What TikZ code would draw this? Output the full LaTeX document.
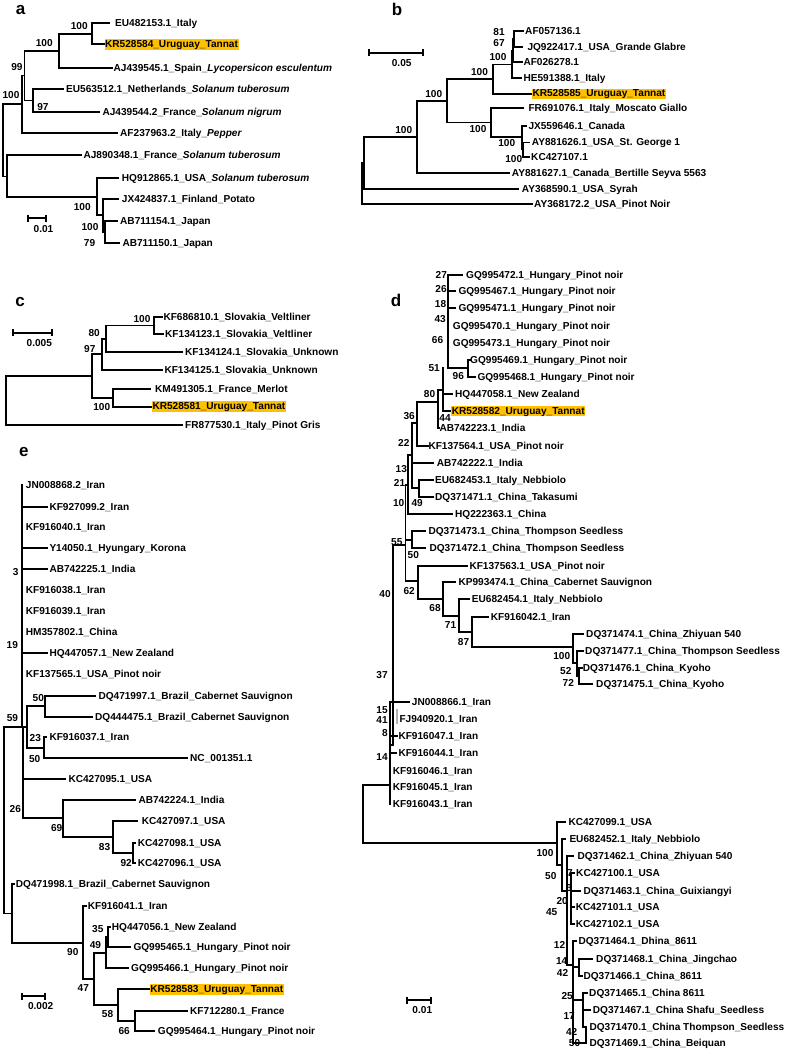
\documentclass[tikz,border=0pt]{standalone}
\usepackage{fontspec}
\setmainfont{Liberation Sans}
\definecolor{hl}{RGB}{255,192,0}
\newcommand\tf{\fontsize{10.1}{11}\selectfont\bfseries}
\tikzset{
  br/.style={line width=1.8pt, line cap=rect, line join=miter},
  lab/.style={anchor=west, inner sep=0pt, text height=7pt, text depth=0pt, font=\tf},
  hlab/.style={anchor=west, inner xsep=0.6pt, inner ysep=1.3pt, text height=7pt, text depth=1pt, fill=hl, font=\tf},
  bs/.style={anchor=center, inner sep=0pt, text height=7pt, text depth=0pt, font=\tf},
  pl/.style={anchor=center, inner sep=0pt, font=\fontsize{17}{17}\selectfont\bfseries},
  sc/.style={line width=1.8pt}
}
\begin{document}
\begin{tikzpicture}[x=1pt,y=-1pt]
\useasboundingbox (0,0) rectangle (787,1051);
% ================= panel a
\node[pl] (La) at (20.5,10) {a};
\draw[br] (109,23.3) -| (92.3,44.3) -- (104,44.3);
\draw[br] (92.3,33.8) -| (58.7,67.7) -- (112,67.7);
\draw[br] (63,89.3) -| (33.3,111.7) -- (99,111.7);
\draw[br] (58.7,50.7) -| (24.5,100.5) -- (33.3,100.5);
\draw[br] (24.5,75.6) -| (22.3,133) -- (117.3,133);
\draw[br] (22.3,104.3) -| (3.3,176.5) -- (7,176.5);
\draw[br] (81,154.7) -| (7,197) -- (96.7,197);
\draw[br] (118.3,177.7) -| (96.7,215.3) -- (103.3,215.3);
\draw[br] (118.3,199) -| (103.3,231.7) -- (105,231.7);
\draw[br] (117.3,220.7) -| (105,242.7) -- (119.3,242.7);
\node[lab] (a1) at (115,23.3) {EU482153.1\_Italy};
\node[hlab] (a2) at (104.3,44.3) {KR528584\_Uruguay\_Tannat};
\node[lab] (a3) at (113.5,67.7) {AJ439545.1\_Spain\_\textit{Lycopersicon esculentum}};
\node[lab] (a4) at (66,89.3) {EU563512.1\_Netherlands\_\textit{Solanum tuberosum}};
\node[lab] (a5) at (102.3,111.7) {AJ439544.2\_France\_\textit{Solanum nigrum}};
\node[lab] (a6) at (120,133) {AF237963.2\_Italy\_\textit{Pepper}};
\node[lab] (a7) at (83.3,154.7) {AJ890348.1\_France\_\textit{Solanum tuberosum}};
\node[lab] (a8) at (121.7,177.7) {HQ912865.1\_USA\_\textit{Solanum tuberosum}};
\node[lab] (a9) at (121.7,199) {JX424837.1\_Finland\_Potato};
\node[lab] (a10) at (120,220.7) {AB711154.1\_Japan};
\node[lab] (a11) at (122.3,242.7) {AB711150.1\_Japan};
\node[bs] (ba1) at (79.2,26) {100};
\node[bs] (ba2) at (44.3,42.7) {100};
\node[bs] (ba3) at (17,66.7) {99};
\node[bs] (ba4) at (11,95) {100};
\node[bs] (ba5) at (43,106.7) {97};
\node[bs] (ba6) at (82.3,206.7) {100};
\node[bs] (ba7) at (90,226.7) {100};
\node[bs] (ba8) at (89.5,242.7) {79};
\draw[sc] (28,214.5) -- (28,221.5) (28,218) -- (46,218) (46,214.5) -- (46,221.5);
\node[bs] (sa) at (43.5,228.5) {0.01};
% ================= panel b
\node[pl] (Lb) at (397,9.5) {b};
\draw[br] (522.7,31) -| (514,46.7) -- (521.7,46.7);
\draw[br] (514,38.8) -| (513,62.3) -- (521.7,62.3);
\draw[br] (513,50.6) -| (511.7,78.3) -- (520.7,78.3);
\draw[br] (511.7,64.5) -| (492.7,94) -- (531.7,94);
\draw[br] (492.7,79.2) -| (447.3,122.5) -- (491,122.5);
\draw[br] (522.7,108.3) -| (491,136.7) -- (521.7,136.7);
\draw[br] (526,125.7) -| (521.7,149.6) -- (523.3,149.6);
\draw[br] (529,142.5) -| (523.3,156.7) -- (529,156.7);
\draw[br] (447.3,100.9) -| (417.3,172.7) -- (509,172.7);
\draw[br] (417.3,136.8) -| (364,189.3) -- (518.3,189.3);
\draw[br] (364,163) -| (361.7,204) -- (531.7,204);
\node[lab] (b1) at (525,31) {AF057136.1};
\node[lab] (b2) at (527.3,46.7) {JQ922417.1\_USA\_Grande Glabre};
\node[lab] (b3) at (523.3,62.3) {AF026278.1};
\node[lab] (b4) at (523.3,78.3) {HE591388.1\_Italy};
\node[hlab] (b5) at (531.7,94) {KR528585\_Uruguay\_Tannat};
\node[lab] (b6) at (528.3,108.3) {FR691076.1\_Italy\_Moscato Giallo};
\node[lab] (b7) at (528.3,125.7) {JX559646.1\_Canada};
\node[lab] (b8) at (531.7,142.5) {AY881626.1\_USA\_St. George 1};
\node[lab] (b9) at (531,156.7) {KC427107.1};
\node[lab] (b10) at (511.7,172.7) {AY881627.1\_Canada\_Bertille Seyva 5563};
\node[lab] (b11) at (521.7,189.3) {AY368590.1\_USA\_Syrah};
\node[lab] (b12) at (534,204) {AY368172.2\_USA\_Pinot Noir};
\node[bs] (bb1) at (499,31.7) {81};
\node[bs] (bb2) at (499,43.3) {67};
\node[bs] (bb3) at (498,57) {100};
\node[bs] (bb4) at (479.5,71.7) {100};
\node[bs] (bb5) at (433.8,94) {100};
\node[bs] (bb6) at (478,129.3) {100};
\node[bs] (bb7) at (403.8,130) {100};
\node[bs] (bb8) at (506.7,142.7) {100};
\node[bs] (bb9) at (513.8,159) {100};
\draw[sc] (369.3,49.2) -- (369.3,56.2) (369.3,52.7) -- (423.3,52.7) (423.3,49.2) -- (423.3,56.2);
\node[bs] (sb) at (401.7,62.7) {0.05};
% ================= panel c
\node[pl] (Lc) at (20,302) {c};
\draw[br] (161.7,316.7) -| (154,334.3) -- (163,334.3);
\draw[br] (154,325.5) -| (106,351.7) -- (181.7,351.7);
\draw[br] (106,338.6) -| (101.7,370) -- (161.7,370);
\draw[br] (150,389) -| (113.3,406.7) -- (151.7,406.7);
\draw[br] (101.7,354.3) -| (91.7,397.9) -- (113.3,397.9);
\draw[br] (91.7,376.1) -| (6,425) -- (181.7,425);
\node[lab] (c1) at (163.3,316.7) {KF686810.1\_Slovakia\_Veltliner};
\node[lab] (c2) at (165,334.3) {KF134123.1\_Slovakia\_Veltliner};
\node[lab] (c3) at (185,352) {KF134124.1\_Slovakia\_Unknown};
\node[lab] (c4) at (164.3,370.3) {KF134125.1\_Slovakia\_Unknown};
\node[lab] (c5) at (155,389) {KM491305.1\_France\_Merlot};
\node[hlab] (c6) at (151.7,406.7) {KR528581\_Uruguay\_Tannat};
\node[lab] (c7) at (185,425) {FR877530.1\_Italy\_Pinot Gris};
\node[bs] (bc1) at (142,319.3) {100};
\node[bs] (bc2) at (94.2,332.7) {80};
\node[bs] (bc3) at (89.8,349.3) {97};
\node[bs] (bc4) at (101.7,406.7) {100};
\draw[sc] (13.3,329.2) -- (13.3,336.2) (13.3,332.7) -- (51.7,332.7) (51.7,329.2) -- (51.7,336.2);
\node[bs] (scc) at (39.3,343.3) {0.005};
% ================= panel e
\node[pl] (Le) at (23.8,452) {e};
\draw[br] (21.7,485) -- (21.7,727);
\draw[br] (21.7,506.7) -- (46.7,506.7);
\draw[br] (21.7,548.3) -- (46.7,548.3);
\draw[br] (21.7,569.3) -- (46.7,569.3);
\draw[br] (21.7,653.3) -- (46.7,653.3);
\draw[br] (95,695.7) -| (45,716.7) -- (91.7,716.7);
\draw[br] (46,737.3) -| (44.3,758.3) -- (186.7,758.3);
\draw[br] (45,706.2) -| (26.7,747.8) -- (44.3,747.8);
\draw[br] (4,727) -- (26.7,727);
\draw[br] (22.7,727) -- (22.7,779.3);
\draw[br] (65,779.3) -| (22.7,818.3) -- (63.3,818.3);
\draw[br] (135,800) -| (63.3,836.7) -- (112.7,836.7);
\draw[br] (136.7,820.7) -| (112.7,852.7) -- (133.3,852.7);
\draw[br] (135.3,842.7) -| (133.3,863.3) -- (135.3,863.3);
\draw[br] (4,727) |- (11.7,913.5);
\draw[br] (13.7,884.3) -| (11.7,942.7) -- (83.3,942.7);
\draw[br] (85.7,905.7) -| (83.3,979.3) -- (94.3,979.3);
\draw[br] (106,953) -| (94.3,1005) -- (118.3,1005);
\draw[br] (108,937) -| (106,968.3) -- (127.7,968.3);
\draw[br] (110,926.7) -| (108,947.3) -- (130,947.3);
\draw[br] (149.3,989.3) -| (118.3,1021) -- (135,1021);
\draw[br] (186.7,1010.7) -| (135,1031) -- (154,1031);
\node[lab] (e1) at (25.7,485) {JN008868.2\_Iran};
\node[lab] (e2) at (49.3,506.7) {KF927099.2\_Iran};
\node[lab] (e3) at (25.7,527.3) {KF916040.1\_Iran};
\node[lab] (e4) at (49.3,548.3) {Y14050.1\_Hyungary\_Korona};
\node[lab] (e5) at (49.3,569.3) {AB742225.1\_India};
\node[lab] (e6) at (25.7,590) {KF916038.1\_Iran};
\node[lab] (e7) at (25.7,611) {KF916039.1\_Iran};
\node[lab] (e8) at (25.7,632.3) {HM357802.1\_China};
\node[lab] (e9) at (49.3,653.3) {HQ447057.1\_New Zealand};
\node[lab] (e10) at (25.7,674) {KF137565.1\_USA\_Pinot noir};
\node[lab] (e11) at (98.3,695.7) {DQ471997.1\_Brazil\_Cabernet Sauvignon};
\node[lab] (e12) at (95,716.7) {DQ444475.1\_Brazil\_Cabernet Sauvignon};
\node[lab] (e13) at (49.3,737.3) {KF916037.1\_Iran};
\node[lab] (e14) at (190,758.3) {NC\_001351.1};
\node[lab] (e15) at (68.3,779.3) {KC427095.1\_USA};
\node[lab] (e16) at (138.3,800) {AB742224.1\_India};
\node[lab] (e17) at (141.7,820.7) {KC427097.1\_USA};
\node[lab] (e18) at (137.7,842.7) {KC427098.1\_USA};
\node[lab] (e19) at (137.7,863.3) {KC427096.1\_USA};
\node[lab] (e20) at (15.7,884.3) {DQ471998.1\_Brazil\_Cabernet Sauvignon};
\node[lab] (e21) at (87.7,905.7) {KF916041.1\_Iran};
\node[lab] (e22) at (111.7,926.7) {HQ447056.1\_New Zealand};
\node[lab] (e23) at (133.3,947.3) {GQ995465.1\_Hungary\_Pinot noir};
\node[lab] (e24) at (131,968.3) {GQ995466.1\_Hungary\_Pinot noir};
\node[hlab] (e25) at (149.5,989.3) {KR528583\_Uruguay\_Tannat};
\node[lab] (e26) at (190,1010.7) {KF712280.1\_France};
\node[lab] (e27) at (157.7,1031) {GQ995464.1\_Hungary\_Pinot noir};
\node[bs] (be1) at (15.7,571.7) {3};
\node[bs] (be2) at (12.3,645) {19};
\node[bs] (be3) at (38.3,698.3) {50};
\node[bs] (be4) at (12.5,718.3) {59};
\node[bs] (be5) at (35.3,738.3) {23};
\node[bs] (be6) at (34.7,759) {50};
\node[bs] (be7) at (15.3,809.3) {26};
\node[bs] (be8) at (56.7,828.3) {69};
\node[bs] (be9) at (104.5,847.3) {83};
\node[bs] (be10) at (126.2,862.7) {92};
\node[bs] (be11) at (97.8,929) {35};
\node[bs] (be12) at (95.5,945) {49};
\node[bs] (be13) at (72.8,951.7) {90};
\node[bs] (be14) at (83.3,988.3) {47};
\node[bs] (be15) at (107.5,1014) {58};
\node[bs] (be16) at (124.2,1030.7) {66};
\draw[sc] (21.7,992.5) -- (21.7,999.5) (21.7,996) -- (45,996) (45,992.5) -- (45,999.5);
\node[bs] (se) at (40.7,1006) {0.002};
% ================= panel d
\node[pl] (Ld) at (396,300) {d};
\draw[br] (448.3,275) -- (462,275);
\draw[br] (448.3,291) -- (455,291);
\draw[br] (448.3,308.3) -- (455,308.3);
\draw[br] (448.3,275) -- (448.3,368.3) -- (467.7,368.3);
\draw[br] (470,360) -| (467.7,377.3) -- (475,377.3);
\draw[br] (443.3,368.3) -- (443.3,411) -- (451,411);
\draw[br] (443.3,394) -- (451.7,394);
\draw[br] (443.3,390) -| (438.3,428.3) -- (439.3,428.3);
\draw[br] (438.3,401.7) -| (416.7,445.7) -- (428,445.7);
\draw[br] (416.7,423.3) -| (412.3,488.3) -- (419.3,488.3);
\draw[br] (412.3,462.7) -- (433.3,462.7);
\draw[br] (433,480) -| (419.3,496.7) -- (433,496.7);
\draw[br] (412.3,455) -| (408.3,514) -- (451.7,514);
\draw[br] (408.3,485) -| (405.5,580.7) -- (418.3,580.7);
\draw[br] (425,531) -| (412.3,548.3) -- (425,548.3);
\draw[br] (405.5,539.7) -- (412.3,539.7);
\draw[br] (466.7,565.7) -| (418.3,599) -- (443.3,599);
\draw[br] (455,582.3) -| (443.3,615.7) -- (459.3,615.7);
\draw[br] (469,599.3) -| (459.3,632) -- (471.7,632);
\draw[br] (487.7,616.7) -| (471.7,647.3) -- (572.7,647.3);
\draw[br] (582.7,634) -| (572.7,663.3) -- (576.7,663.3);
\draw[br] (583,650.7) -| (576.7,676) -- (579.3,676);
\draw[br] (581.7,667.7) -| (579.3,684.3) -- (591.7,684.3);
\draw[br] (405.5,545) -| (393.3,745) -- (390,745);
\draw[br] (390,702.3) -- (390,804.3);
\draw[br] (390,702.3) -- (409,702.3);
\draw[br, gray!60] (396.7,710) -- (396.7,723.3);
\draw[br] (390,736) -- (396.7,736);
\draw[br] (390,753.3) -- (396,753.3);
\draw[br] (390,785) -| (363.3,843.3) -- (556.7,843.3);
\draw[br] (565,821.7) -| (556.7,865) -- (561.7,865);
\draw[br] (565,839) -| (561.7,891) -- (566.7,891);
\draw[br] (572.7,855.7) -| (566.7,925) -- (566.7,925);
\draw[br] (574,873.3) -| (571,924.3) -- (574,924.3);
\draw[br] (571,890.7) -- (580,890.7);
\draw[br] (571,907.3) -- (574,907.3);
\draw[br] (566.7,910) -- (566.7,965) -- (573,965);
\draw[br] (576,941) -| (573,1043.3) -- (586,1043.3);
\draw[br] (591.7,959) -| (579.3,976) -- (581.7,976);
\draw[br] (573,967) -- (579.3,967);
\draw[br] (587,992.7) -| (583,1026.7) -- (586,1026.7);
\draw[br] (583,1010) -- (590,1010);
\draw[br] (573,1000) -- (583,1000);
\draw[br] (586,1026.7) -- (586,1043.3);
\node[lab] (d1) at (466,275) {GQ995472.1\_Hungary\_Pinot noir};
\node[lab] (d2) at (458.3,291) {GQ995467.1\_Hungary\_Pinot noir};
\node[lab] (d3) at (458.3,308.3) {GQ995471.1\_Hungary\_Pinot noir};
\node[lab] (d4) at (452.7,325.7) {GQ995470.1\_Hungary\_Pinot noir};
\node[lab] (d5) at (452.7,343.3) {GQ995473.1\_Hungary\_Pinot noir};
\node[lab] (d6) at (470,360) {GQ995469.1\_Hungary\_Pinot noir};
\node[lab] (d7) at (477.3,377.3) {GQ995468.1\_Hungary\_Pinot noir};
\node[lab] (d8) at (455,394) {HQ447058.1\_New Zealand};
\node[hlab] (d9) at (451,411) {KR528582\_Uruguay\_Tannat};
\node[lab] (d10) at (439.3,428.3) {AB742223.1\_India};
\node[lab] (d11) at (428.3,445.7) {KF137564.1\_USA\_Pinot noir};
\node[lab] (d12) at (436.7,462.7) {AB742222.1\_India};
\node[lab] (d13) at (435,480) {EU682453.1\_Italy\_Nebbiolo};
\node[lab] (d14) at (435,496.7) {DQ371471.1\_China\_Takasumi};
\node[lab] (d15) at (455,514) {HQ222363.1\_China};
\node[lab] (d16) at (428.3,531) {DQ371473.1\_China\_Thompson Seedless};
\node[lab] (d17) at (429.3,548.3) {DQ371472.1\_China\_Thompson Seedless};
\node[lab] (d18) at (469.3,565.7) {KF137563.1\_USA\_Pinot noir};
\node[lab] (d19) at (458.3,582.3) {KP993474.1\_China\_Cabernet Sauvignon};
\node[lab] (d20) at (471.7,599.3) {EU682454.1\_Italy\_Nebbiolo};
\node[lab] (d21) at (490.7,616.7) {KF916042.1\_Iran};
\node[lab] (d22) at (586,634) {DQ371474.1\_China\_Zhiyuan 540};
\node[lab] (d23) at (585,650.7) {DQ371477.1\_China\_Thompson Seedless};
\node[lab] (d24) at (582.7,667.7) {DQ371476.1\_China\_Kyoho};
\node[lab] (d25) at (596,684.3) {DQ371475.1\_China\_Kyoho};
\node[lab] (d26) at (411.7,702.3) {JN008866.1\_Iran};
\node[lab] (d27) at (399.3,719.3) {FJ940920.1\_Iran};
\node[lab] (d28) at (398.3,736) {KF916047.1\_Iran};
\node[lab] (d29) at (398.3,753.3) {KF916044.1\_Iran};
\node[lab] (d30) at (392.7,770.7) {KF916046.1\_Iran};
\node[lab] (d31) at (392.7,787.3) {KF916045.1\_Iran};
\node[lab] (d32) at (392.7,804.3) {KF916043.1\_Iran};
\node[lab] (d33) at (568.3,821.7) {KC427099.1\_USA};
\node[lab] (d34) at (569.3,839) {EU682452.1\_Italy\_Nebbiolo};
\node[lab] (d35) at (577.3,855.7) {DQ371462.1\_China\_Zhiyuan 540};
\node[lab] (d36) at (576,873.3) {KC427100.1\_USA};
\node[lab] (d37) at (583.3,890.7) {DQ371463.1\_China\_Guixiangyi};
\node[lab] (d38) at (575.7,907.3) {KC427101.1\_USA};
\node[lab] (d39) at (575.7,924.3) {KC427102.1\_USA};
\node[lab] (d40) at (578.3,941) {DQ371464.1\_Dhina\_8611};
\node[lab] (d41) at (596,959) {DQ371468.1\_China\_Jingchao};
\node[lab] (d42) at (583.3,976) {DQ371466.1\_China\_8611};
\node[lab] (d43) at (589,992.7) {DQ371465.1\_China 8611};
\node[lab] (d44) at (592.7,1010) {DQ371467.1\_China Shafu\_Seedless};
\node[lab] (d45) at (589.3,1026.7) {DQ371470.1\_China Thompson\_Seedless};
\node[lab] (d46) at (589.3,1043.3) {DQ371469.1\_China\_Beiquan};
\node[bs] (bd1) at (441.3,275) {27};
\node[bs] (bd2) at (441,289) {26};
\node[bs] (bd3) at (440.5,304) {18};
\node[bs] (bd4) at (440.2,319.3) {43};
\node[bs] (bd5) at (437.5,340) {66};
\node[bs] (bd6) at (434.2,367.7) {51};
\node[bs] (bd7) at (458.3,376) {96};
\node[bs] (bd8) at (429.5,394.3) {80};
\node[bs] (bd9) at (445,418.3) {44};
\node[bs] (bd10) at (409.2,416) {36};
\node[bs] (bd11) at (403.8,442.7) {22};
\node[bs] (bd12) at (401.3,469.3) {13};
\node[bs] (bd13) at (399.5,482.7) {21};
\node[bs] (bd14) at (398.7,503.3) {10};
\node[bs] (bd15) at (417.2,503.3) {49};
\node[bs] (bd16) at (396.8,541.7) {55};
\node[bs] (bd17) at (413.3,555) {50};
\node[bs] (bd18) at (409.2,591) {62};
\node[bs] (bd19) at (435,608.3) {68};
\node[bs] (bd20) at (450.5,625) {71};
\node[bs] (bd21) at (463.5,641.7) {87};
\node[bs] (bd22) at (561.7,655.7) {100};
\node[bs] (bd23) at (565.8,671) {52};
\node[bs] (bd24) at (568.3,683.3) {72};
\node[bs] (bd25) at (385,594) {40};
\node[bs] (bd26) at (382,675) {37};
\node[bs] (bd27) at (382,710) {15};
\node[bs] (bd28) at (382,720) {41};
\node[bs] (bd29) at (385,733) {8};
\node[bs] (bd30) at (382,757) {14};
\node[bs] (bd31) at (545,853.3) {100};
\node[bs] (bd32) at (550.8,875.5) {50};
\node[bs] (bd33) at (570,873.3) {7};
\node[bs] (bd34) at (569,888.3) {6};
\node[bs] (bd35) at (562.2,900.7) {20};
\node[bs] (bd36) at (551.7,911.7) {45};
\node[bs] (bd37) at (559.5,945) {12};
\node[bs] (bd38) at (561.7,960.7) {14};
\node[bs] (bd39) at (562.5,973.3) {42};
\node[bs] (bd40) at (567.2,995.7) {25};
\node[bs] (bd41) at (569.2,1015.7) {17};
\node[bs] (bd42) at (571.7,1031.7) {42};
\node[bs] (bd43) at (574.5,1043.3) {50};
\draw[sc] (406.7,996.5) -- (406.7,1003.5) (406.7,1000) -- (430.7,1000) (430.7,996.5) -- (430.7,1003.5);
\node[bs] (sd) at (422.3,1010) {0.01};
\end{tikzpicture}
\end{document}
